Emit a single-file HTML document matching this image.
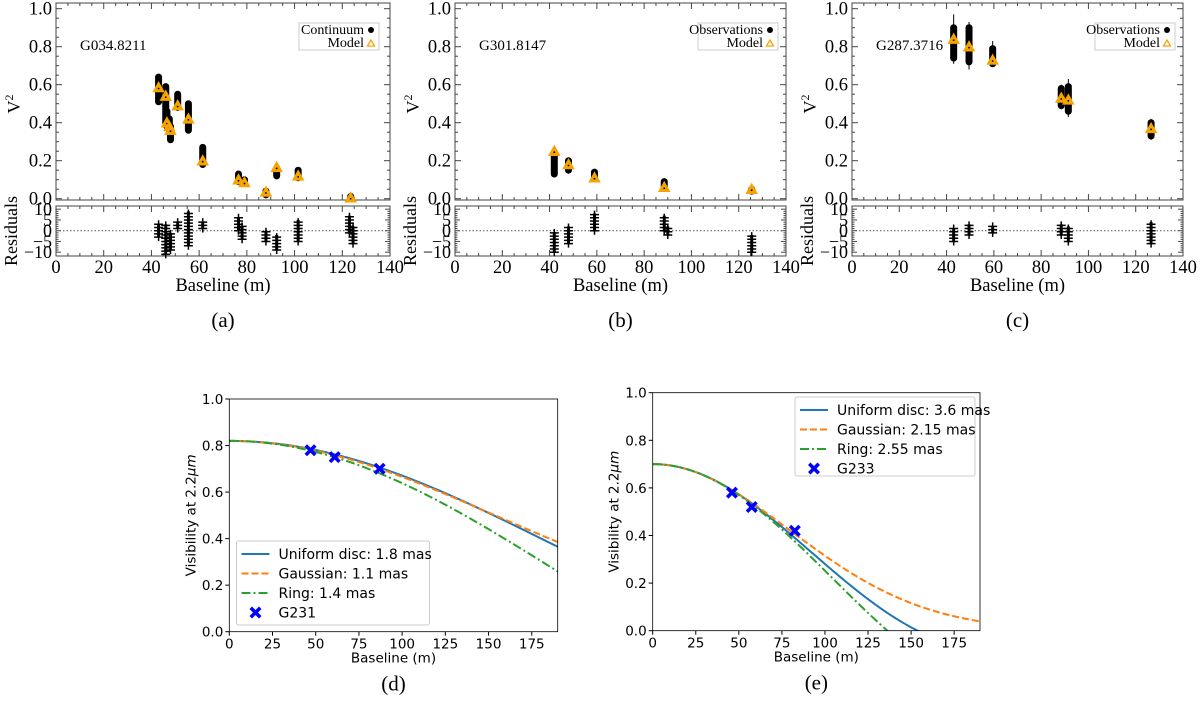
<!DOCTYPE html>
<html><head><meta charset="utf-8"><style>
html,body{margin:0;padding:0;background:#fff;}
svg{display:block;}
.serif{font-family:"Liberation Serif",serif;}
.sans{font-family:"DejaVu Sans","Liberation Sans",sans-serif;}
</style></head><body>
<svg id="fig" width="1200" height="701" viewBox="0 0 1200 701" xmlns="http://www.w3.org/2000/svg"></svg>
<script>
// ---------- Panel (a) data ----------
const aBase=[43,46,46.5,47.5,48,51,55.5,61.5,76.5,79,88,92.5,101.5,123.5];
const aMin=[0.51,0.40,0.38,0.36,0.31,0.48,0.36,0.18,0.09,0.08,0.02,0.12,0.11,0.0];
const aMax=[0.64,0.59,0.46,0.42,0.38,0.55,0.50,0.27,0.13,0.10,0.04,0.15,0.15,0.012];
const aModel=[0.585,0.54,0.40,0.38,0.36,0.49,0.42,0.20,0.10,0.085,0.035,0.165,0.12,0.005];
const aResBase=[43,46,48,51,55.5,61.5,76.5,78,88,92.5,101.5,123,124.5];
const aResMin=[-3,-11,-9,1,-7,1,0,-4,-5,-9,-5,-1,-6];
const aResMax=[3,3,-1,4,9,4,6,2,0,-2,5,7,2];
// ---------- Panel (b) data ----------
const bBase=[42,48,59,88.5,125.5];
const bMin=[0.13,0.15,0.11,0.06,0.04];
const bMax=[0.23,0.20,0.14,0.09,0.05];
const bModel=[0.25,0.18,0.11,0.06,0.05];
const bResBase=[42,48,59,88.5,90,125.5];
const bResMin=[-10,-6,0,0,-2,-10];
const bResMax=[-1,2,8,7,2,-2];
// ---------- Panel (c) data ----------
const cBase=[43,49.5,59.5,88.5,91.5,126.5];
const cMin=[0.74,0.72,0.71,0.49,0.46,0.33];
const cMax=[0.90,0.90,0.79,0.58,0.59,0.40];
const cErrMin=[0.71,0.68,0.70,0.47,0.43,0.31];
const cErrMax=[0.97,0.93,0.83,0.60,0.63,0.42];
const cModel=[0.84,0.80,0.73,0.53,0.52,0.37];
const cResBase=[43,49.5,59.5,88.5,91.5,126.5];
const cResMin=[-5,-2,-1,-2,-5,-6];
const cResMax=[1,3,2,3,2,4];
// ---------- Panels (d),(e) ----------
const dObsBase=[47,61,87];
const dObsVis=[0.78,0.75,0.70];
const dAmp=0.82;
const dDiam=[1.8,1.1,1.4]; // UD, Gaussian, Ring (mas)
const eObsBase=[46,57.5,82.5];
const eObsVis=[0.58,0.52,0.42];
const eAmp=0.70;
const eDiam=[3.6,2.15,2.55];

const NS="http://www.w3.org/2000/svg";
const svg=document.getElementById('fig');
function el(tag,attrs,parent,text){const e=document.createElementNS(NS,tag);for(const k in attrs)e.setAttribute(k,attrs[k]);if(text!==undefined)e.textContent=text;(parent||svg).appendChild(e);return e;}

function idlPanel(id,X0,X1,name,legTop,base,mn,mx,model,rb,rmn,rmx,emn,emx,letter){
  const g=el('g',{});
  
  
  const T0=3,T1=200,R0=206,R1=256;
  const sx=v=>X0+(X1-X0)*v/140;
  const sy=v=>198.7-(198.7-8.7)*v;
  const ry=v=>230.7-v*2.15;
  const f1=el('rect',{x:X0,y:T0,width:X1-X0,height:T1-T0,fill:'none',stroke:'#444','stroke-width':1},g);
  
  const f2=el('rect',{x:X0,y:R0,width:X1-X0,height:R1-R0,fill:'none',stroke:'#444','stroke-width':1},g);
  
  for(let v=0;v<=140;v+=5){const x=sx(v);const L=v%20===0?6:3;
    el('line',{x1:x,y1:T1,x2:x,y2:T1-L,stroke:'#444'},g);el('line',{x1:x,y1:T0,x2:x,y2:T0+L,stroke:'#444'},g);
    el('line',{x1:x,y1:R1,x2:x,y2:R1-L,stroke:'#444'},g);el('line',{x1:x,y1:R0,x2:x,y2:R0+L,stroke:'#444'},g);
    if(v%20===0){const t=el('text',{x:x,y:273,'text-anchor':'middle','font-size':18.5,class:'serif'},g,String(v));
      }}
  for(let i=0;i<=20;i++){const v=i*0.05;const y=sy(v);const L=i%4===0?6:3;
    el('line',{x1:X0,y1:y,x2:X0+L,y2:y,stroke:'#444'},g);el('line',{x1:X1,y1:y,x2:X1-L,y2:y,stroke:'#444'},g);
    if(i%4===0){const t=el('text',{x:X0-4,y:y+6,'text-anchor':'end','font-size':18.5,class:'serif'},g,v.toFixed(1));
      }}
  for(let v=-10;v<=10;v+=1){const y=ry(v);const L=v%5===0?5:2.5;
    el('line',{x1:X0,y1:y,x2:X0+L,y2:y,stroke:'#444'},g);el('line',{x1:X1,y1:y,x2:X1-L,y2:y,stroke:'#444'},g);
    if(v%5===0){const t=el('text',{x:X0-4,y:y+6,'text-anchor':'end','font-size':18,class:'serif'},g,v<0?'\u2212'+(-v):String(v));
      }}
  const zl=el('line',{x1:X0,y1:ry(0),x2:X1,y2:ry(0),stroke:'#555','stroke-dasharray':'1.5,2'},g);
  
  const yl=el('text',{x:0,y:0,transform:`translate(${X0-36},104) rotate(-90)`,'text-anchor':'middle','font-size':18,class:'serif'},g);
  
  yl.textContent='V';el('tspan',{dy:-7,'font-size':12},yl,'2');
  const rl=el('text',{x:0,y:0,transform:`translate(${X0-39},231) rotate(-90)`,'text-anchor':'middle','font-size':18,class:'serif'},g,'Residuals');
  
  const xl=el('text',{x:(X0+X1)/2,y:291,'text-anchor':'middle','font-size':18.5,class:'serif'},g,'Baseline (m)');
  
  const pl=el('text',{x:(X0+X1)/2,y:327,'text-anchor':'middle','font-size':21,class:'serif'},g,'('+letter+')');
  
  const nm=el('text',{x:X0+24,y:50,'font-size':15,class:'serif'},g,name);
  
  const lb=el('rect',{x:X0+243,y:23,width:80,height:27,fill:'#fff',stroke:'#ccc'},g);
  
  const l1=el('text',{x:X0+308,y:34,'text-anchor':'end','font-size':14,class:'serif'},g,legTop);
  
  el('circle',{cx:X0+315,cy:30,r:3,fill:'#000'},g);
  const l2=el('text',{x:X0+308,y:47,'text-anchor':'end','font-size':14,class:'serif'},g,'Model');
  
  el('path',{d:`M${X0+311.5},${46} L${X0+318.5},${46} L${X0+315},${40} Z`,fill:'none',stroke:'#f5a300','stroke-width':1.3},g);
  for(let i=0;i<base.length;i++){const x=sx(base[i]);
    if(emn){const eb=el('line',{x1:x,y1:sy(emn[i]),x2:x,y2:sy(emx[i]),stroke:'#000','stroke-width':1},g);
      }
    const c=el('line',{x1:x,y1:sy(mx[i]),x2:x,y2:sy(mn[i]),stroke:'#000','stroke-width':7,'stroke-linecap':'round'},g);
    }
  for(let i=0;i<base.length;i++){const x=sx(base[i]),y=sy(model[i]);
    const m=el('path',{d:`M${x-5},${y+4} L${x+5},${y+4} L${x},${y-5} Z`,fill:'#f5a300',stroke:'#f5a300','stroke-width':1.5},g);
    
    el('circle',{cx:x,cy:y+1,r:0.9,fill:'#000'},g);}
  for(let i=0;i<rb.length;i++){const x=sx(rb[i]);
    const r=el('line',{x1:x,y1:ry(rmx[i]),x2:x,y2:ry(rmn[i]),stroke:'#000','stroke-width':3},g);
    
    for(let v=rmn[i];v<=rmx[i]+0.01;v+=1.5){const y=ry(v);
      const p=el('path',{d:`M${x-4.5},${y} H${x+4.5} M${x},${y-4} V${y+4}`,stroke:'#000','stroke-width':1.5},g);
      }}
}
idlPanel('a',56,390,'G034.8211','Continuum',aBase,aMin,aMax,aModel,aResBase,aResMin,aResMax,null,null,'a');
idlPanel('b',455,786,'G301.8147','Observations',bBase,bMin,bMax,bModel,bResBase,bResMin,bResMax,null,null,'b');
idlPanel('c',852,1183,'G287.3716','Observations',cBase,cMin,cMax,cModel,cResBase,cResMin,cResMax,cErrMin,cErrMax,'c');

function J0(x){let s=0,t=1;for(let k=0;k<30;k++){if(k>0)t*=-(x/2)*(x/2)/(k*k);s+=t;}return s;}
function J1(x){let s=0,t=x/2;for(let k=0;k<30;k++){if(k>0)t*=-(x/2)*(x/2)/(k*(k+1));s+=t;}return s;}
const MAS=Math.PI/180/3600/1000, LAM=2.2e-6;
function ud(B,d){const x=Math.PI*d*MAS*B/LAM;return x<1e-9?1:2*J1(x)/x;}
function gau(B,d){const x=Math.PI*d*MAS*B/LAM;return Math.exp(-x*x/(4*Math.LN2));}
function ring(B,d){const x=Math.PI*d*MAS*B/LAM;return J0(x);}

function mplPanel(id,X0,X1,Y0,Y1,amp,diam,ob,ov,objName,legend,letter){
  const g=el('g',{});
  
  
  const sx=v=>X0+(X1-X0)*v/190, sy=v=>Y1-(Y1-Y0)*v;
  const cp=el('clipPath',{id:'clip'+id},g);el('rect',{x:X0,y:Y0,width:X1-X0,height:Y1-Y0},cp);
  for(let v=0;v<=175;v+=25){const x=sx(v);el('line',{x1:x,y1:Y1,x2:x,y2:Y1+4,stroke:'#000'},g);
    const t=el('text',{x:x,y:Y1+17,'text-anchor':'middle','font-size':13.5,class:'sans'},g,String(v));
    }
  for(let i=0;i<=5;i++){const v=i*0.2,y=sy(v);el('line',{x1:X0,y1:y,x2:X0-4,y2:y,stroke:'#000'},g);
    const t=el('text',{x:X0-6,y:y+5,'text-anchor':'end','font-size':13.5,class:'sans'},g,v.toFixed(1));
    }
  const xl=el('text',{x:(X0+X1)/2,y:Y1+31,'text-anchor':'middle','font-size':13.5,class:'sans'},g,'Baseline (m)');
  
  const yl=el('text',{x:0,y:0,transform:`translate(${X0-34},${(Y0+Y1)/2}) rotate(-90)`,'text-anchor':'middle','font-size':13.5,class:'sans'},g);
  
  yl.textContent='Visibility at 2.2';el('tspan',{'font-style':'italic'},yl,'\u03bcm');
  const pl=el('text',{x:(X0+X1)/2,y:Y1+59,'text-anchor':'middle','font-size':21,class:'serif'},g,'('+letter+')');
  
  const fns=[ud,gau,ring],cols=['#1f77b4','#ff7f0e','#2ca02c'],dash=['none','7,3','9,3,2,3'],names=['uniform-disc-curve','gaussian-curve','ring-curve'];
  for(let k=0;k<3;k++){let d='';for(let B=0;B<=190;B+=1){const v=amp*fns[k](B,diam[k]);d+=(B?'L':'M')+sx(B).toFixed(2)+','+sy(v).toFixed(2);}
    const p=el('path',{d:d,fill:'none',stroke:cols[k],'stroke-width':2,'stroke-dasharray':dash[k],'clip-path':`url(#clip${id})`},g);
    }
  const xm=(x,y,s)=>`M${x-s},${y-s+2.5}L${x-s+2.5},${y-s}L${x},${y-2.5}L${x+s-2.5},${y-s}L${x+s},${y-s+2.5}L${x+2.5},${y}L${x+s},${y+s-2.5}L${x+s-2.5},${y+s}L${x},${y+2.5}L${x-s+2.5},${y+s}L${x-s},${y+s-2.5}L${x-2.5},${y}Z`;
  for(let i=0;i<ob.length;i++){const m=el('path',{d:xm(sx(ob[i]),sy(ov[i]),6),fill:'#0000ff'},g);
    }
  const fr=el('rect',{x:X0,y:Y0,width:X1-X0,height:Y1-Y0,fill:'none',stroke:'#000','stroke-width':0.8},g);
  
  const [lx,ly,lw,lh]=legend;
  const lb=el('rect',{x:lx,y:ly,width:lw,height:lh,fill:'#fff','fill-opacity':0.8,stroke:'#ccc',rx:2},g);
  
  const labels=['Uniform disc: '+diam[0]+' mas','Gaussian: '+diam[1]+' mas','Ring: '+diam[2]+' mas',objName];
  for(let k=0;k<4;k++){const y=ly+13+k*19.5;
    if(k<3){el('line',{x1:lx+5,y1:y,x2:lx+33,y2:y,stroke:cols[k],'stroke-width':2,'stroke-dasharray':dash[k]},g);}
    else el('path',{d:xm(lx+19,y,6),fill:'#0000ff'},g);
    const t=el('text',{x:lx+42,y:y+5,'font-size':14,class:'sans'},g,labels[k]);
    }
}
mplPanel('d',229.3,557.7,399,631.7,dAmp,dDiam,dObsBase,dObsVis,'G231',[236.5,541,193,84],'d');
mplPanel('e',652.7,980,392.7,630.7,eAmp,eDiam,eObsBase,eObsVis,'G233',[795,397,180,79],'e');
</script>
</body></html>
